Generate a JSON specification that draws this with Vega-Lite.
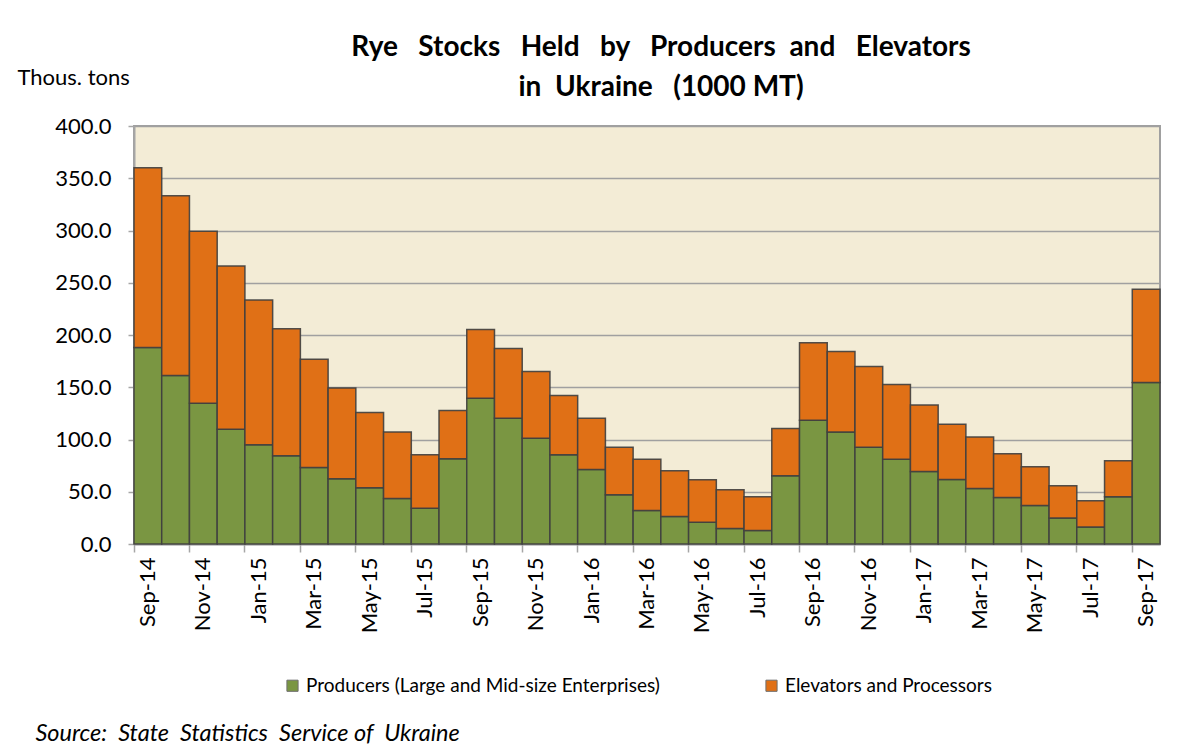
{
  "$schema": "https://vega.github.io/schema/vega-lite/v6.json",
  "autosize": {"type": "none"},
  "width": 1026,
  "height": 418,
  "padding": {"left": 134, "top": 126, "right": 26, "bottom": 206},
  "background": "white",
  "title": {
    "text": ["Rye\u00a0\u00a0 Stocks\u00a0\u00a0 Held\u00a0\u00a0 by\u00a0\u00a0 Producers\u00a0 and\u00a0\u00a0 Elevators", "in\u00a0 Ukraine\u00a0\u00a0 (1000 MT)"],
    "font": "Lato",
    "fontSize": 28,
    "fontWeight": "bold",
    "color": "#000000",
    "anchor": "middle",
    "frame": "group",
    "dx": 14,
    "dy": 40,
    "lineHeight": 40,
    "offset": 4
  },
  "data": {
    "values": [
      {"month": "Sep-14", "producers": 188.0, "elevators": 172.0},
      {"month": "Oct-14", "producers": 161.2, "elevators": 172.1},
      {"month": "Nov-14", "producers": 134.8, "elevators": 164.4},
      {"month": "Dec-14", "producers": 109.9, "elevators": 156.2},
      {"month": "Jan-15", "producers": 94.9, "elevators": 138.7},
      {"month": "Feb-15", "producers": 84.4, "elevators": 121.7},
      {"month": "Mar-15", "producers": 73.2, "elevators": 103.7},
      {"month": "Apr-15", "producers": 62.4, "elevators": 87.0},
      {"month": "May-15", "producers": 53.8, "elevators": 72.0},
      {"month": "Jun-15", "producers": 43.6, "elevators": 63.5},
      {"month": "Jul-15", "producers": 34.1, "elevators": 51.3},
      {"month": "Aug-15", "producers": 81.5, "elevators": 46.2},
      {"month": "Sep-15", "producers": 139.5, "elevators": 65.7},
      {"month": "Oct-15", "producers": 120.4, "elevators": 66.6},
      {"month": "Nov-15", "producers": 101.3, "elevators": 63.7},
      {"month": "Dec-15", "producers": 85.4, "elevators": 56.7},
      {"month": "Jan-16", "producers": 71.4, "elevators": 49.0},
      {"month": "Feb-16", "producers": 47.1, "elevators": 45.6},
      {"month": "Mar-16", "producers": 32.1, "elevators": 49.1},
      {"month": "Apr-16", "producers": 26.4, "elevators": 43.7},
      {"month": "May-16", "producers": 20.7, "elevators": 40.8},
      {"month": "Jun-16", "producers": 14.9, "elevators": 37.0},
      {"month": "Jul-16", "producers": 13.0, "elevators": 32.2},
      {"month": "Aug-16", "producers": 65.3, "elevators": 45.2},
      {"month": "Sep-16", "producers": 118.5, "elevators": 74.2},
      {"month": "Oct-16", "producers": 107.1, "elevators": 77.0},
      {"month": "Nov-16", "producers": 92.7, "elevators": 77.1},
      {"month": "Dec-16", "producers": 81.2, "elevators": 71.4},
      {"month": "Jan-17", "producers": 69.4, "elevators": 63.5},
      {"month": "Feb-17", "producers": 61.8, "elevators": 52.9},
      {"month": "Mar-17", "producers": 53.2, "elevators": 49.1},
      {"month": "Apr-17", "producers": 44.6, "elevators": 41.7},
      {"month": "May-17", "producers": 36.9, "elevators": 37.0},
      {"month": "Jun-17", "producers": 24.9, "elevators": 30.8},
      {"month": "Jul-17", "producers": 16.3, "elevators": 25.1},
      {"month": "Aug-17", "producers": 45.2, "elevators": 34.4},
      {"month": "Sep-17", "producers": 154.5, "elevators": 89.3}
    ]
  },
  "transform": [
    {"fold": ["producers", "elevators"], "as": ["series", "value"]}
  ],
  "mark": {"type": "bar", "stroke": "#3f3f3f", "strokeWidth": 1.5, "strokeOpacity": 0.9},
  "encoding": {
    "x": {
      "field": "month",
      "type": "ordinal",
      "sort": null,
      "scale": {"paddingInner": 0, "paddingOuter": 0},
      "axis": {
        "values": ["Sep-14", "Nov-14", "Jan-15", "Mar-15", "May-15", "Jul-15", "Sep-15", "Nov-15", "Jan-16", "Mar-16", "May-16", "Jul-16", "Sep-16", "Nov-16", "Jan-17", "Mar-17", "May-17", "Jul-17", "Sep-17"],
        "labelAngle": -90,
        "labelFont": "Lato",
        "labelFontSize": 22,
        "labelColor": "#000000",
        "labelPadding": 5,
        "bandPosition": 0,
        "tickColor": "#a6a6a6",
        "tickSize": 8,
        "tickWidth": 1.5,
        "domainColor": "#a6a6a6",
        "domainWidth": 2,
        "title": "Source:\u00a0 State\u00a0 Statistics\u00a0 Service of\u00a0 Ukraine",
        "titleFont": "Lato",
        "titleFontSize": 23.5,
        "titleFontStyle": "italic",
        "titleFontWeight": "normal",
        "titleColor": "#000000",
        "titleAlign": "left",
        "titleBaseline": "middle",
        "titleAnchor": "start",
        "titleX": -99,
        "titleY": 189
      }
    },
    "y": {
      "field": "value",
      "type": "quantitative",
      "stack": "zero",
      "scale": {"domain": [0, 400], "nice": false},
      "axis": {
        "values": [0, 50, 100, 150, 200, 250, 300, 350, 400],
        "format": ".1f",
        "labelFont": "Lato",
        "labelFontSize": 22,
        "labelColor": "#000000",
        "labelPadding": 17,
        "tickColor": "#a6a6a6",
        "tickSize": 6,
        "tickWidth": 1.5,
        "domainColor": "#a6a6a6",
        "domainWidth": 2,
        "grid": true,
        "gridColor": "#a0a0a0",
        "gridWidth": 1.5,
        "title": "Thous. tons",
        "titleFont": "Lato",
        "titleFontSize": 22,
        "titleFontWeight": "normal",
        "titleColor": "#000000",
        "titleAngle": 0,
        "titleAlign": "left",
        "titleBaseline": "middle",
        "titleX": -117,
        "titleY": -49
      }
    },
    "color": {
      "field": "series",
      "type": "nominal",
      "scale": {"domain": ["producers", "elevators"], "range": ["#7a9642", "#e07016"]},
      "legend": {
        "orient": "none",
        "legendX": 149,
        "legendY": 550,
        "direction": "horizontal",
        "columns": 2,
        "columnPadding": 102,
        "title": null,
        "labelExpr": "datum.value == 'producers' ? 'Producers (Large and Mid-size Enterprises)' : 'Elevators and Processors'",
        "labelFont": "Lato",
        "labelFontSize": 19,
        "labelColor": "#000000",
        "labelLimit": 500,
        "symbolType": "square",
        "symbolSize": 125,
        "symbolStrokeColor": "#6f6f6f",
        "symbolStrokeWidth": 1,
        "symbolOpacity": 1
      }
    },
    "order": {"field": "series", "sort": "descending"}
  },
  "config": {
    "view": {"fill": "#f3ecd6", "stroke": "#a0a0a0", "strokeWidth": 2}
  }
}
